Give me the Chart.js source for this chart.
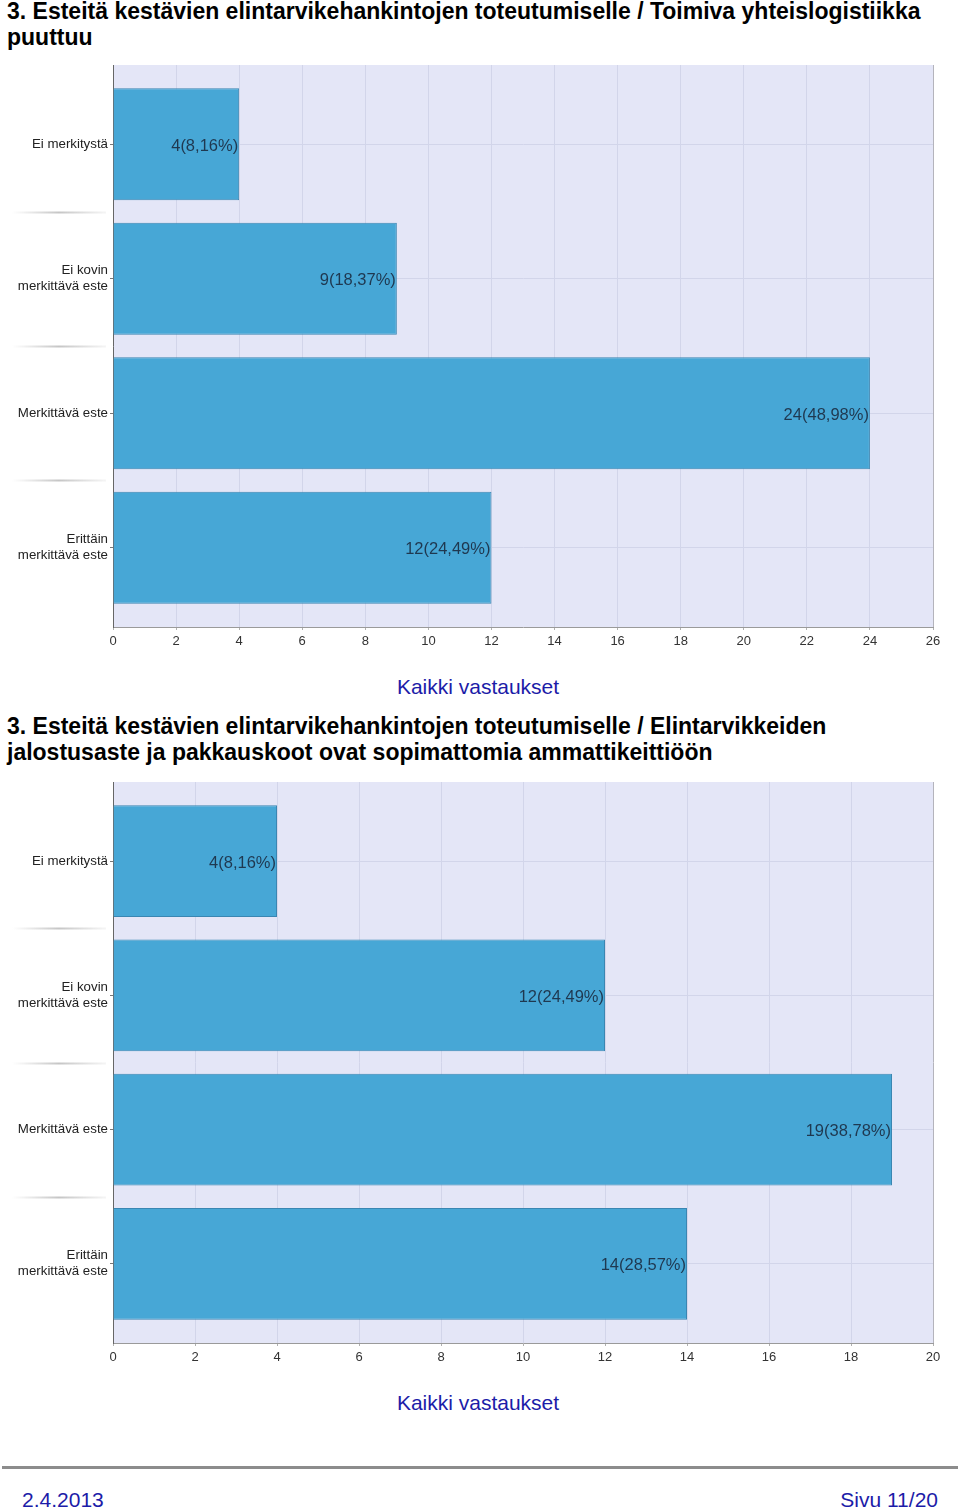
<!DOCTYPE html>
<html>
<head>
<meta charset="utf-8">
<script src="https://cdn.jsdelivr.net/npm/chart.js@4/dist/chart.umd.min.js"></script>
<style>
    body { margin: 0; background: #fff; width: 960px; height: 1509px; position: relative; overflow: hidden;
           font-family: 'Liberation Sans', Arial, sans-serif; }
    .title { position: absolute; left: 7px; font-weight: bold; font-size: 23px; line-height: 26px; color: #000; }
    .caption { position: absolute; left: 0; width: 956px; text-align: center; font-size: 21px; color: #1c1ca8; }
    canvas { position: absolute; left: 0; }
    .rule { position: absolute; left: 2px; width: 956px; top: 1466px; height: 3px; background: #8c8c8c; }
    .foot { position: absolute; top: 1488px; font-size: 21px; color: #1c1ca8; }
</style>
</head>
<body>
<div class="title" style="top:-2px">3. Esteitä kestävien elintarvikehankintojen toteutumiselle / Toimiva yhteislogistiikka<br>puuttuu</div>
<canvas id="chart1" width="960" height="600" style="top:60px"></canvas>
<div class="caption" style="top:675px">Kaikki vastaukset</div>

<div class="title" style="top:713px">3. Esteitä kestävien elintarvikehankintojen toteutumiselle / Elintarvikkeiden<br>jalostusaste ja pakkauskoot ovat sopimattomia ammattikeittiöön</div>
<canvas id="chart2" width="960" height="600" style="top:777px"></canvas>
<div class="caption" style="top:1391px">Kaikki vastaukset</div>

<div class="rule"></div>
<div class="foot" style="left:22px">2.4.2013</div>
<div class="foot" style="right:22px">Sivu 11/20</div>

<script>
// ---- data ----
const categories = ['Ei merkitystä', ['Ei kovin', 'merkittävä este'], 'Merkittävä este', ['Erittäin', 'merkittävä este']];

const counts1 = [4, 9, 24, 12];
const percents1 = ['8,16', '18,37', '48,98', '24,49'];
const xMax1 = 26;

const counts2 = [4, 12, 19, 14];
const percents2 = ['8,16', '24,49', '38,78', '28,57'];
const xMax2 = 20;

const xStep = 2;

// plot background (lavender panel)
const panelBg = {
    id: 'panelBg',
    beforeDraw(chart) {
        const { ctx, chartArea: a } = chart;
        ctx.save();
        ctx.fillStyle = '#e4e6f7';
        ctx.fillRect(a.left, a.top, a.right - a.left, a.bottom - a.top);
        ctx.restore();
    }
};

// faded separator lines between the category labels
const labelSeparators = {
    id: 'labelSeparators',
    afterDraw(chart) {
        const { ctx } = chart;
        const y = chart.scales.y;
        ctx.save();
        for (let i = 0; i < categories.length - 1; i++) {
            const py = Math.round(y.getPixelForValue(i + 0.5)) + 0.5;
            const g = ctx.createLinearGradient(12, 0, 106, 0);
            g.addColorStop(0, 'rgba(160,160,160,0)');
            g.addColorStop(0.5, 'rgba(150,150,150,0.55)');
            g.addColorStop(1, 'rgba(160,160,160,0.1)');
            ctx.strokeStyle = g;
            ctx.lineWidth = 2;
            ctx.beginPath();
            ctx.moveTo(12, py);
            ctx.lineTo(106, py);
            ctx.stroke();
        }
        ctx.restore();
    }
};

// value labels at the end of each bar
const barValues = {
    id: 'barValues',
    afterDatasetsDraw(chart) {
        const { ctx } = chart;
        const meta = chart.getDatasetMeta(0);
        const ds = chart.data.datasets[0];
        ctx.save();
        ctx.font = '16.5px "Liberation Sans", Arial, sans-serif';
        ctx.fillStyle = '#1f3850';
        ctx.textAlign = 'right';
        ctx.textBaseline = 'middle';
        meta.data.forEach((bar, i) => {
            ctx.fillText(ds.data[i].x + '(' + ds.percents[i] + '%)', bar.x - 1, bar.y + 2);
        });
        ctx.restore();
    }
};

function makeChart(id, counts, percents, xMax, axisHeight) {
    return new Chart(document.getElementById(id), {
        type: 'bar',
        data: {
            datasets: [{
                data: counts.map((v, i) => ({ x: v, y: i })),
                percents: percents,
                backgroundColor: '#47a7d6',
                borderColor: '#3a86b2',
                borderWidth: 1,
                categoryPercentage: 1,
                barPercentage: 0.833
            }]
        },
        options: {
            indexAxis: 'y',
            responsive: false,
            animation: false,
            layout: { padding: { top: 5, right: 27, left: 0, bottom: 0 } },
            plugins: { legend: { display: false }, tooltip: { enabled: false } },
            scales: {
                x: {
                    type: 'linear',
                    min: 0,
                    max: xMax,
                    ticks: { stepSize: xStep, color: '#333', padding: 4, font: { size: 13, family: 'Liberation Sans' } },
                    grid: {
                        color: ctx => ctx.tick && ctx.tick.value === xMax ? '#b4b4bc' : '#d2d5ea',
                        tickLength: 3,
                        tickColor: '#b0b0b0'
                    },
                    border: { color: '#9a9a9a' },
                    afterFit: s => { s.height = axisHeight; }
                },
                y: {
                    type: 'linear',
                    reverse: true,
                    offset: false,
                    min: -0.59,
                    max: 3.59,
                    afterBuildTicks: s => { s.ticks = categories.map((c, i) => ({ value: i })); },
                    ticks: {
                        color: '#222',
                        padding: 2,
                        font: { size: 13.3, family: 'Liberation Sans' },
                        callback: v => categories[v]
                    },
                    grid: { offset: false, color: '#d2d5ea', tickLength: 3, tickColor: '#777' },
                    border: { color: '#666' },
                    afterFit: s => { s.width = 113; s.paddingTop = 0; s.paddingBottom = 0; }
                }
            }
        },
        plugins: [panelBg, labelSeparators, barValues]
    });
}

makeChart('chart1', counts1, percents1, xMax1, 33);
makeChart('chart2', counts2, percents2, xMax2, 34);
</script>
</body>
</html>
